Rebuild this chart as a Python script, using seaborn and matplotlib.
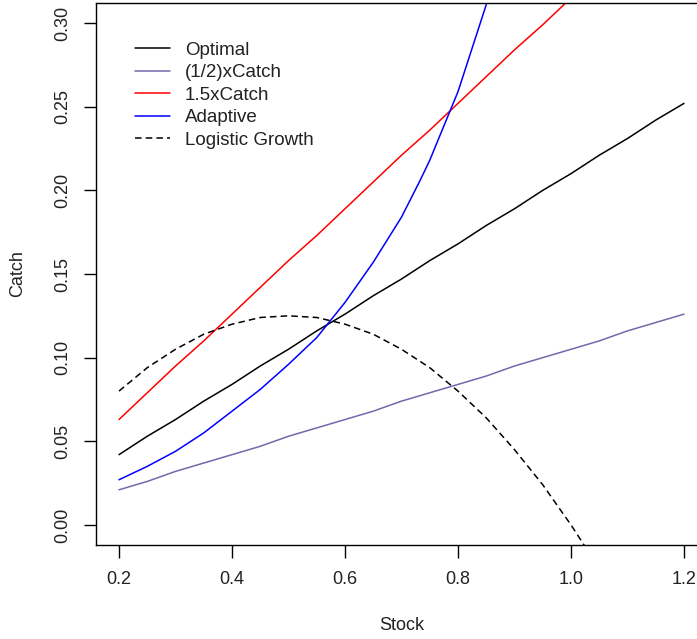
import numpy as np
import pandas as pd
import matplotlib
matplotlib.use("Agg")
import matplotlib.pyplot as plt
import seaborn as sns

# ---- data ----
stock = [0.20, 0.25, 0.30, 0.35, 0.40, 0.45, 0.50, 0.55, 0.60, 0.65, 0.70,
         0.75, 0.80, 0.85, 0.90, 0.95, 1.00, 1.05, 1.10, 1.15, 1.20]
optimal = [0.042, 0.053, 0.063, 0.074, 0.084, 0.095, 0.105, 0.116, 0.126, 0.137, 0.147,
           0.158, 0.168, 0.179, 0.189, 0.200, 0.210, 0.221, 0.231, 0.242, 0.252]
half_catch = [0.021, 0.026, 0.032, 0.037, 0.042, 0.047, 0.053, 0.058, 0.063, 0.068, 0.074,
              0.079, 0.084, 0.089, 0.095, 0.100, 0.105, 0.110, 0.116, 0.121, 0.126]
onehalf_catch = [0.063, 0.079, 0.095, 0.110, 0.126, 0.142, 0.158, 0.173, 0.189, 0.205, 0.221,
                 0.236, 0.252, 0.268, 0.284, 0.299, 0.315, 0.331, 0.347, 0.362, 0.378]
adaptive_stock = [0.20, 0.25, 0.30, 0.35, 0.40, 0.45, 0.50, 0.55, 0.60, 0.65, 0.70,
                  0.715, 0.733, 0.75, 0.789, 0.80, 0.85, 0.90]
adaptive = [0.027, 0.035, 0.044, 0.055, 0.068, 0.081, 0.096, 0.112, 0.133, 0.157, 0.184,
            0.194, 0.206, 0.218, 0.250, 0.259, 0.311, 0.375]
logistic_stock = [0.20, 0.25, 0.30, 0.35, 0.40, 0.45, 0.50, 0.55, 0.60, 0.65, 0.70,
                  0.75, 0.80, 0.85, 0.90, 0.95, 1.00, 1.05]
logistic = [0.080, 0.094, 0.105, 0.114, 0.120, 0.124, 0.125, 0.124, 0.120, 0.114, 0.105,
            0.094, 0.080, 0.064, 0.045, 0.024, 0.000, -0.026]

x_ticks = [0.2, 0.4, 0.6, 0.8, 1.0, 1.2]
x_tick_labels = ["0.2", "0.4", "0.6", "0.8", "1.0", "1.2"]
y_ticks = [0.00, 0.05, 0.10, 0.15, 0.20, 0.25, 0.30]
y_tick_labels = ["0.00", "0.05", "0.10", "0.15", "0.20", "0.25", "0.30"]

sns.set_style("ticks")
plt.rcParams["font.family"] = ["Liberation Sans", "DejaVu Sans"]
FS = 13
LFS = 13.5

fig = plt.figure(figsize=(6.97, 6.39), dpi=100)
ax = fig.add_axes([96.4 / 697, 94 / 639, 610.2 / 697, 542 / 639])

lw = 1.1
sns.lineplot(x=stock, y=optimal, color="black", lw=lw, ax=ax, label="Optimal")
sns.lineplot(x=stock, y=half_catch, color="#7766aa", lw=lw, ax=ax, label="(1/2)xCatch")
sns.lineplot(x=stock, y=onehalf_catch, color="red", lw=lw, ax=ax, label="1.5xCatch")
sns.lineplot(x=adaptive_stock, y=adaptive, color="blue", lw=lw, ax=ax, label="Adaptive")
sns.lineplot(x=logistic_stock, y=logistic, color="black", lw=lw, ax=ax,
             linestyle=(0, (4.3, 2.7)), label="Logistic Growth")

ax.set_xlim(0.16, 1.24)
ax.set_ylim(-0.012, 0.312)
ax.set_xticks(x_ticks)
ax.set_xticklabels(x_tick_labels)
ax.set_yticks(y_ticks)
ax.set_yticklabels(y_tick_labels)
for lab in ax.get_yticklabels():
    lab.set_rotation(90)
    lab.set_va("center")

ax.tick_params(axis="both", direction="out", length=9, width=1.0, color="black",
               labelsize=FS, labelcolor="#222222")
ax.tick_params(axis="x", pad=10)
ax.tick_params(axis="y", pad=9)
for s in ax.spines.values():
    s.set_visible(True)
    s.set_color("black")
    s.set_linewidth(1.0)

ax.set_xlabel("Stock", fontsize=FS, color="#222222")
ax.set_ylabel("Catch", fontsize=FS, color="#222222")
ax.xaxis.set_label_coords(0.5, (545 - 626) / 542)
ax.yaxis.set_label_coords((18 - 96.4) / 610.2, 0.5)
ax.xaxis.label.set_va("center")
ax.yaxis.label.set_va("center")

leg = ax.legend(loc="upper left", bbox_to_anchor=(135 / 697, 1 - 41.5 / 639),
                bbox_transform=fig.transFigure, frameon=False, fontsize=LFS,
                handlelength=1.87, handletextpad=0.8, labelspacing=0.29,
                borderpad=0, borderaxespad=0)
for t in leg.get_texts():
    t.set_color("#222222")

fig.savefig("out.png", dpi=100)
